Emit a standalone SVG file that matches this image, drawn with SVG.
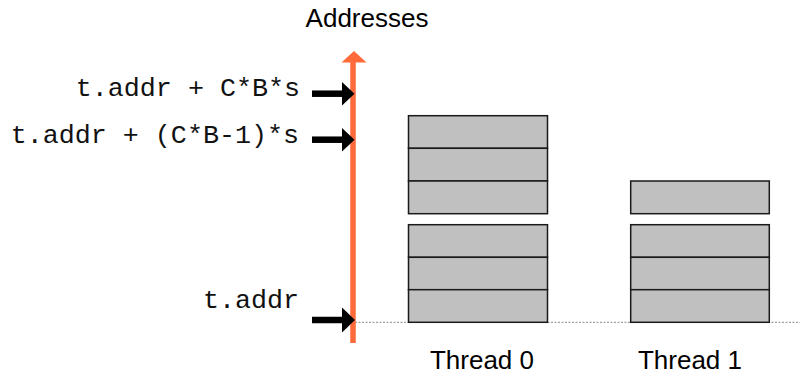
<svg xmlns="http://www.w3.org/2000/svg" width="800" height="377" viewBox="0 0 800 377">
  <style>
    .label { font-family: "Liberation Sans", Arial, sans-serif; font-size: 26px; fill: #000; }
    .code { font-family: "Liberation Mono", "Courier New", monospace; font-size: 26.7px; fill: #111; text-anchor: end; }
    .cell { fill: #C0C0C0; stroke: #1a1a1a; stroke-width: 1.5; }
    .ptr { stroke: #000; stroke-width: 6.5; fill: none; }
    .head { fill: #000; }
  </style>

  <!-- baseline of the address space -->
  <line x1="355" y1="322.3" x2="800" y2="322.3" stroke="#888" stroke-width="1" stroke-dasharray="2,1.5"/>

  <!-- address axis -->
  <g id="axis">
    <line x1="353" y1="60" x2="353" y2="343" stroke="#FF6A3B" stroke-width="5.5"/>
    <polygon points="341.5,62.5 366.5,62.5 354,51" fill="#FF6A3B"/>
    <text class="label" x="367" y="27" text-anchor="middle">Addresses</text>
  </g>

  <!-- address labels -->
  <g id="addr-top">
    <text class="code" x="300" y="96">t.addr + C*B*s</text>
  </g>
  <g id="addr-prev">
    <text class="code" x="299" y="142.5">t.addr + (C*B-1)*s</text>
  </g>
  <g id="addr-base">
    <text class="code" x="299" y="308">t.addr</text>
  </g>

  <!-- pointer arrows onto the axis -->
  <g id="connectors">
    <line class="ptr" x1="312" y1="93.7" x2="344" y2="93.7"/>
    <polygon class="head" points="342,82 354.5,93.7 342,105.5"/>
    <line class="ptr" x1="312" y1="139.7" x2="344" y2="139.7"/>
    <polygon class="head" points="342,128 354.5,139.7 342,151.5"/>
    <line class="ptr" x1="312" y1="320" x2="344" y2="320"/>
    <polygon class="head" points="342,307.5 355,320 342,332.5"/>
  </g>

  <!-- Thread 0 column -->
  <g id="thread0">
    <rect class="cell" x="408.5" y="115.7" width="139" height="32.6"/>
    <rect class="cell" x="408.5" y="148.3" width="139" height="32.7"/>
    <rect class="cell" x="408.5" y="181" width="139" height="32.7"/>
    <rect class="cell" x="408.5" y="224.7" width="139" height="32.6"/>
    <rect class="cell" x="408.5" y="257.3" width="139" height="32.4"/>
    <rect class="cell" x="408.5" y="289.7" width="139" height="32.6"/>
    <text class="label" x="482" y="369" text-anchor="middle">Thread 0</text>
  </g>

  <!-- Thread 1 column -->
  <g id="thread1">
    <rect class="cell" x="630.7" y="181" width="138.6" height="32.7"/>
    <rect class="cell" x="630.7" y="224.7" width="138.6" height="32.6"/>
    <rect class="cell" x="630.7" y="257.3" width="138.6" height="32.4"/>
    <rect class="cell" x="630.7" y="289.7" width="138.6" height="32.6"/>
    <text class="label" x="690" y="369" text-anchor="middle">Thread 1</text>
  </g>
</svg>
